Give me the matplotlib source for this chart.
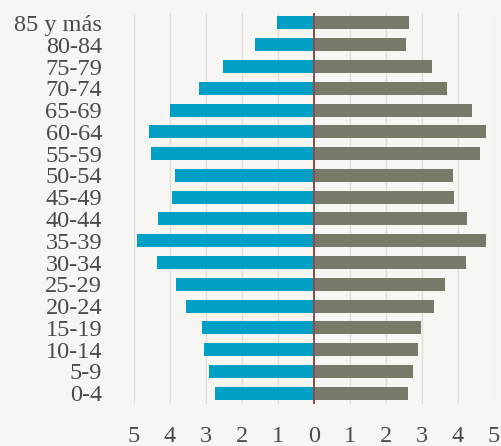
import numpy as np
import matplotlib.pyplot as plt

# age groups, bottom to top
groups = ['0-4', '5-9', '10-14', '15-19', '20-24', '25-29', '30-34', '35-39',
          '40-44', '45-49', '50-54', '55-59', '60-64', '65-69', '70-74',
          '75-79', '80-84', '85 y más']
# left side (blue), percent
left_vals = [2.75, 2.92, 3.06, 3.11, 3.56, 3.83, 4.36, 4.92, 4.33, 3.94,
             3.86, 4.53, 4.58, 4.00, 3.19, 2.53, 1.64, 1.03]
# right side (gray), percent
right_vals = [2.61, 2.75, 2.89, 2.97, 3.33, 3.64, 4.22, 4.78, 4.25, 3.89,
              3.86, 4.61, 4.78, 4.39, 3.69, 3.28, 2.56, 2.64]
ticks = [-5, -4, -3, -2, -1, 0, 1, 2, 3, 4, 5]
tick_labels = [str(abs(t)) for t in ticks]

bg = '#f7f6f3'
fig = plt.figure(figsize=(5.01, 4.46), dpi=100, facecolor=bg)
ax = fig.add_axes([0.2675, 0.094, 0.718, 0.877], facecolor=bg)

y = np.arange(len(groups))
ax.barh(y, [-v for v in left_vals], height=0.6, color='#00a0c6', zorder=2)
ax.barh(y, right_vals, height=0.6, color='#7a7868', zorder=2)

for t in ticks:
    ax.axvline(t, color='#e2dfda', lw=1, zorder=1)
ax.axvline(0, color='#8c4a4a', lw=1.4, zorder=3)

ax.set_xlim(-5, 5)
ax.set_ylim(-0.5, 17.46)
ax.set_yticks(y)
ax.set_yticklabels(groups)
ax.set_xticks(ticks)
ax.set_xticklabels(tick_labels)

for s in ax.spines.values():
    s.set_visible(False)
ax.tick_params(axis='both', length=0, colors='#4a4a4a')
ax.tick_params(axis='y', pad=23)
ax.tick_params(axis='x', pad=16)
for lbl in ax.get_yticklabels() + ax.get_xticklabels():
    lbl.set_family('Liberation Serif')
    lbl.set_fontsize(17.5)

fig.savefig('out.png', dpi=100, facecolor=bg)
